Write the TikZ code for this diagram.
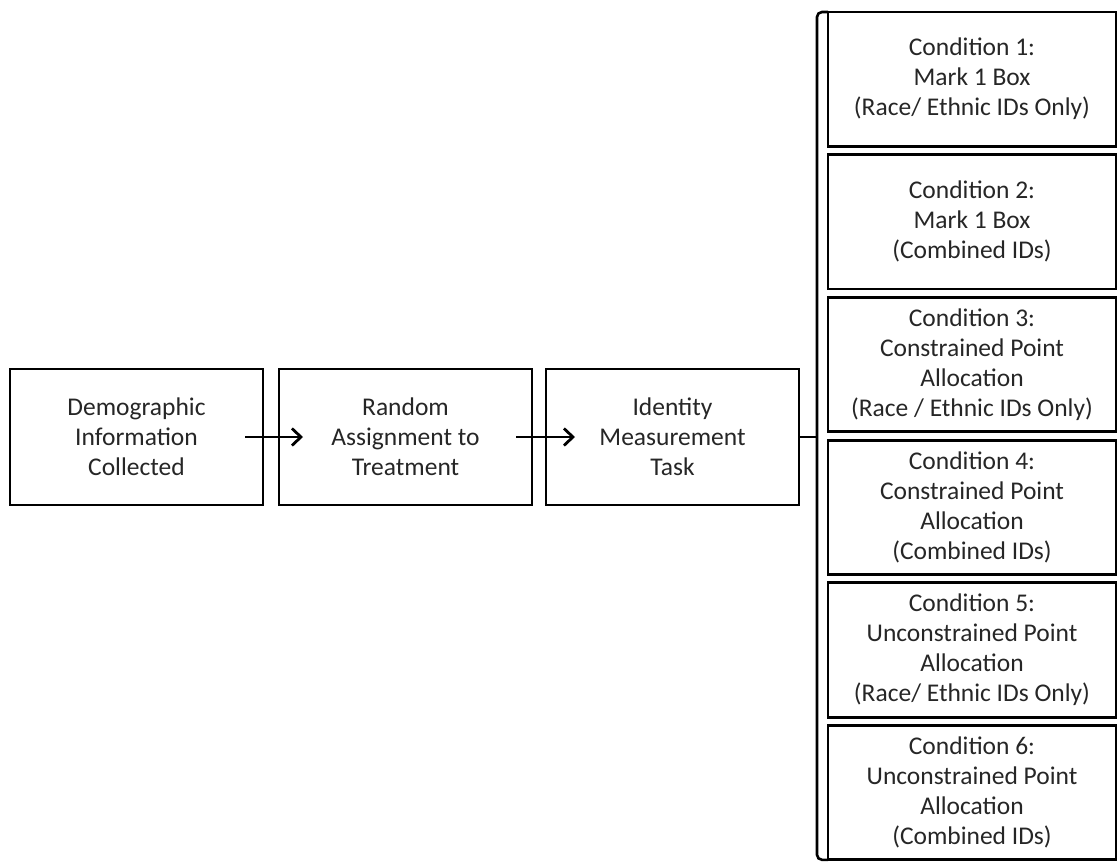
\documentclass[tikz,border=0pt]{standalone}
\usepackage{fontspec}
\setmainfont{Carlito}
\usetikzlibrary{positioning}
\usetikzlibrary{arrows.meta}

\begin{document}
\begin{tikzpicture}[x=1pt,y=1pt,>={Straight Barb[length=9pt,width=17pt]},
	box text/.style={font=\fontsize{25.5}{30}\selectfont,text=black!85},
	stage/.style={draw,line width=2.8pt,outer sep=0pt,inner sep=0pt,
		minimum width=253pt,minimum height=136pt,align=center,box text},
	cond/.style={draw,line width=2.8pt,outer sep=0pt,inner sep=0pt,
		minimum width=288pt,minimum height=134.3pt,align=center,box text}]
	
	\useasboundingbox (0,0) rectangle (1117,-865);
	
	% the three steps
	\node[stage] (demo) at (136.5,-437) {Demographic\\Information\\Collected};
	\node[stage] (assign) [right=16pt of demo] {Random\\Assignment to\\Treatment};
	\node[stage] (ident) [right=14pt of assign] {Identity\\Measurement\\Task};
	
	% the six conditions
	\node[cond,anchor=north west] (c1) at (828,-12) {Condition 1:\\Mark 1 Box\\(Race/ Ethnic IDs Only)};
	\node[cond] (c2) [below=8.4pt of c1] {Condition 2:\\Mark 1 Box\\(Combined IDs)};
	\node[cond] (c3) [below=8.4pt of c2] {Condition 3:\\Constrained Point\\Allocation\\(Race / Ethnic IDs Only)};
	\node[cond] (c4) [below=8.4pt of c3] {Condition 4:\\Constrained Point\\Allocation\\(Combined IDs)};
	\node[cond] (c5) [below=8.4pt of c4] {Condition 5:\\Unconstrained Point\\Allocation\\(Race/ Ethnic IDs Only)};
	\node[cond] (c6) [below=8.4pt of c5] {Condition 6:\\Unconstrained Point\\Allocation\\(Combined IDs)};
	
	\coordinate (brk) at ([xshift=-11pt]c1.north west);
	
	\path[->,line width=2.8pt]
	(demo) edge [shorten <=-18pt,shorten >=-24pt] (assign)
	(assign) edge [shorten <=-16pt,shorten >=-29pt] (ident)
	;
	
	% bracket
	\draw[line width=2.6pt,rounded corners=5pt] (c1.north west) -| ([xshift=-11pt]c6.south west) -- (c6.south west);
	\draw[line width=2.6pt] (ident.east) -- (ident.east -| brk);
\end{tikzpicture}
\end{document}
